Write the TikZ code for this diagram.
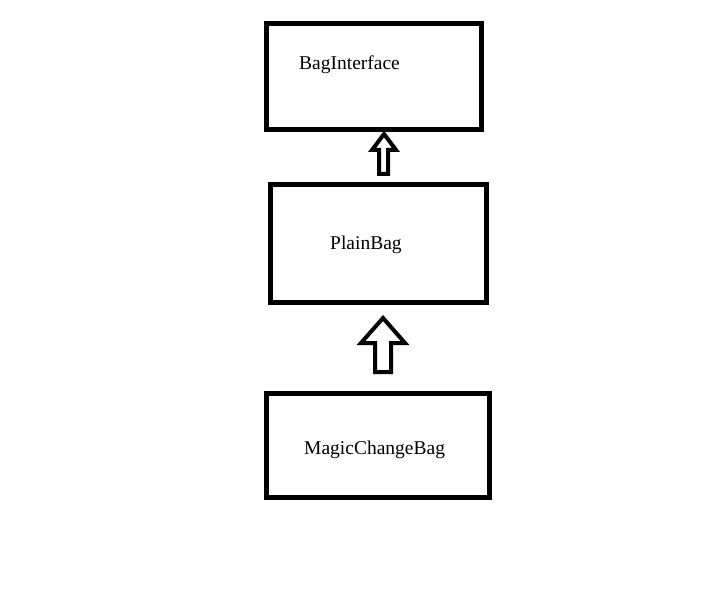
\documentclass[tikz,border=0pt]{standalone}
\usepackage{fontspec}
\setmainfont{Liberation Serif}
\tikzset{
  classbox/.style={draw,line width=5pt,minimum width=#1,inner sep=0pt},
  classname/.style={anchor=base west,inner sep=0pt,font=\fontsize{19.5}{23}\selectfont},
  inherit/.style={draw,line width=4pt,line join=miter}
}
\begin{document}
\begin{tikzpicture}[x=1pt,y=1pt]
\useasboundingbox (0,0) rectangle (710,-599);
\node[classbox=215pt,minimum height=106pt] (iface) at (373.5,-76.5) {};
\node[classbox=216pt,minimum height=117pt] (plain) at (378,-243.5) {};
\node[classbox=223pt,minimum height=104pt] (magic) at (377.5,-445) {};
\node[classname] (ifacename) at (299,-69.5) {BagInterface};
\node[classname] (plainname) at (330,-249) {PlainBag};
\node[classname] (magicname) at (304,-454) {MagicChangeBag};
% hollow arrows
\draw[inherit] (384,-134)--(396,-150)--(388,-150)--(388,-174)--(379,-174)--(379,-150)--(372,-150)--cycle;
\draw[inherit] (383,-318)--(405,-343)--(391,-343)--(391,-372)--(375,-372)--(375,-343)--(361,-343)--cycle;
\end{tikzpicture}
\end{document}
